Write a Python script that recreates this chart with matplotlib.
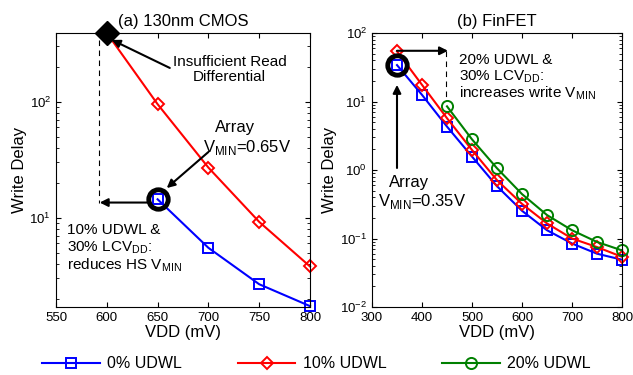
import numpy as np
import matplotlib.pyplot as plt
from matplotlib.lines import Line2D

plt.rcParams['font.family'] = ['Liberation Sans', 'DejaVu Sans']
plt.rcParams['mathtext.fontset'] = 'custom'
plt.rcParams['mathtext.rm'] = 'Liberation Sans'

# (a) 130nm CMOS
vdd_a = [650, 700, 750, 800]
udwl0_a = [14.4, 5.5, 2.67, 1.73]
vdd_a_red = [600, 650, 700, 750, 800]
udwl10_a = [390, 95, 27, 9.2, 3.8]

# (b) FinFET
vdd_b = [350, 400, 450, 500, 550, 600, 650, 700, 750, 800]
udwl0_b = [34, 12.5, 4.3, 1.57, 0.58, 0.254, 0.132, 0.0845, 0.060, 0.049]
udwl10_b = [54, 17.5, 5.7, 1.96, 0.71, 0.32, 0.166, 0.10, 0.075, 0.054]
vdd_b_green = [450, 500, 550, 600, 650, 700, 750, 800]
udwl20_b = [8.5, 2.8, 1.06, 0.445, 0.22, 0.132, 0.089, 0.067]

fig = plt.figure(figsize=(6.33, 3.75), dpi=100)
ax1 = fig.add_axes([56 / 633, 1 - 307 / 375, 254 / 633, 274 / 375])
ax2 = fig.add_axes([372 / 633, 1 - 307 / 375, 250 / 633, 274 / 375])

lw = 1.5
sq = dict(color='blue', lw=lw, marker='s', ms=7, mfc='none', mew=1.4, clip_on=False)
dm = dict(color='red', lw=lw, marker='D', ms=6.5, mfc='none', mew=1.4, clip_on=False)
ci = dict(color='green', lw=lw, marker='o', ms=8, mfc='none', mew=1.4, clip_on=False)

ax1.plot(vdd_a_red, udwl10_a, '-', **dm)
ax1.plot(vdd_a, udwl0_a, '-', **sq)
ax1.plot([600], [390], marker='D', color='black', ms=12, clip_on=False)
ax1.plot([650], [14.4], marker='o', mfc='none', mec='black', ms=14, mew=3.5, clip_on=False)

ax2.plot(vdd_b, udwl0_b, '-', **sq)
ax2.plot(vdd_b, udwl10_b, '-', **dm)
ax2.plot(vdd_b_green, udwl20_b, '-', **ci)
ax2.plot([350], [34], marker='o', mfc='none', mec='black', ms=14, mew=3.5, clip_on=False)

for ax in (ax1, ax2):
    ax.set_yscale('log')
    ax.tick_params(which='both', direction='in', top=True, right=True, labelsize=9.5)
    ax.set_xlabel('VDD (mV)', fontsize=12, labelpad=1)
    ax.set_ylabel('Write Delay', fontsize=12, labelpad=2)

ax1.set_xlim(550, 800)
ax1.set_ylim(1.7, 390)
ax1.set_xticks([550, 600, 650, 700, 750, 800])
ax1.set_title('(a) 130nm CMOS', fontsize=12, pad=5)

ax2.set_xlim(300, 800)
ax2.set_ylim(1e-2, 1e2)
ax2.set_xticks([300, 400, 500, 600, 700, 800])
ax2.set_title('(b) FinFET', fontsize=12, pad=5)

# annotations (a)
arr = dict(arrowstyle='-|>', color='black', lw=1.5, mutation_scale=12, shrinkA=0, shrinkB=0)
ax1.plot([592, 592], [340, 13.5], '--', color='black', lw=0.8, dashes=(5, 4))
ax1.annotate('', xy=(593, 13.5), xytext=(640, 13.5), arrowprops=arr)
ax1.annotate('', xy=(605, 340), xytext=(662, 195), arrowprops=arr)
ax1.text(721, 190, 'Insufficient Read\nDifferential', ha='center', va='center',
         fontsize=11, linespacing=1.1)
ax1.annotate('', xy=(659, 18), xytext=(700, 36.8), arrowprops=arr)
ax1.text(726, 60, 'Array', ha='center', va='center', fontsize=12)
ax1.text(695, 40, r'V$_{\mathrm{MIN}}$=0.65V', ha='left', va='center', fontsize=12)
ax1.text(561, 7.8, '10% UDWL &', ha='left', va='center', fontsize=11)
ax1.text(561, 5.5, r'30% LCV$_{\mathrm{DD}}$:', ha='left', va='center', fontsize=11)
ax1.text(561, 3.9, r'reduces HS V$_{\mathrm{MIN}}$', ha='left', va='center', fontsize=11)

# annotations (b)
ax2.annotate('', xy=(350, 17.5), xytext=(350, 1.07), arrowprops=arr)
ax2.text(374, 0.66, 'Array', ha='center', va='center', fontsize=12)
ax2.text(312, 0.345, r'V$_{\mathrm{MIN}}$=0.35V', ha='left', va='center', fontsize=12)
ax2.annotate('', xy=(452, 55), xytext=(350, 55), arrowprops=arr)
ax2.plot([448, 448], [55, 11.8], '--', color='black', lw=0.8, dashes=(5, 4))
ax2.text(474, 40, '20% UDWL &', ha='left', va='center', fontsize=11)
ax2.text(474, 23, r'30% LCV$_{\mathrm{DD}}$:', ha='left', va='center', fontsize=11)
ax2.text(474, 13.2, r'increases write V$_{\mathrm{MIN}}$', ha='left', va='center', fontsize=11)

# legend
handles = [Line2D([], [], **sq), Line2D([], [], **dm), Line2D([], [], **ci)]
fig.legend(handles, ['0% UDWL', '10% UDWL', '20% UDWL'], loc='center',
           bbox_to_anchor=(0.5, 1 - 364 / 375), ncol=3, frameon=False,
           fontsize=11.5, handlelength=3.6, columnspacing=3.5, handletextpad=0.45)

fig.savefig('out.png', dpi=100)
